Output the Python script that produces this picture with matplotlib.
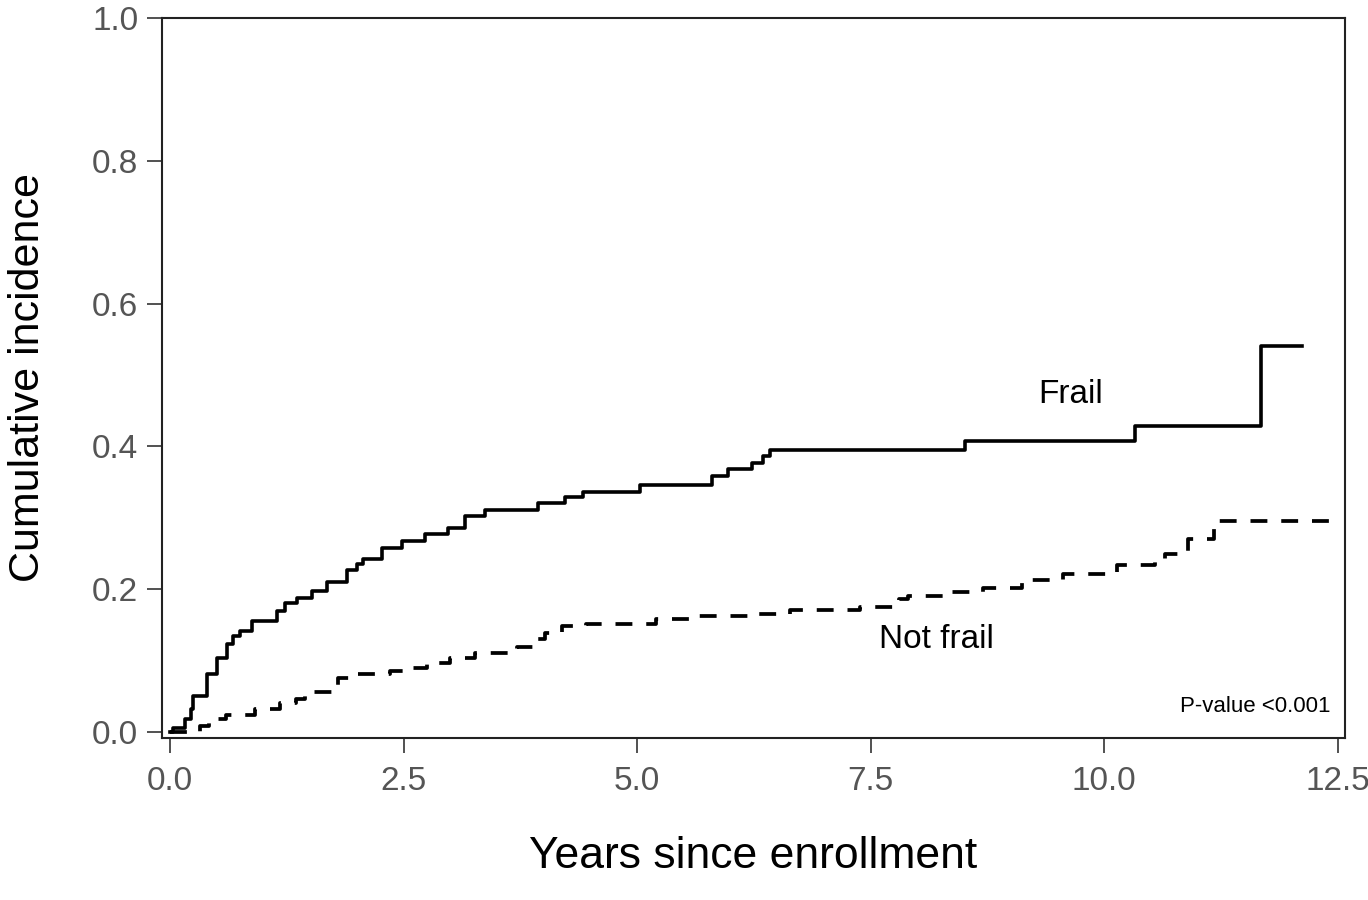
import matplotlib.pyplot as plt

# cumulative incidence step data
frail_t = [0, 0.03, 0.16, 0.22, 0.25, 0.40, 0.50, 0.61, 0.67, 0.75,
           0.88, 1.15, 1.23, 1.36, 1.52, 1.68, 1.90, 2.00, 2.07, 2.27,
           2.48, 2.73, 2.98, 3.16, 3.37, 3.94, 4.23, 4.42, 5.03, 5.80,
           5.97, 6.23, 6.35, 6.42, 8.51, 10.33, 11.68, 12.12]
frail_ci = [0, 0.005, 0.018, 0.032, 0.05, 0.081, 0.104, 0.123, 0.134, 0.141,
            0.155, 0.17, 0.18, 0.188, 0.197, 0.21, 0.227, 0.235, 0.242, 0.258,
            0.267, 0.277, 0.286, 0.302, 0.311, 0.321, 0.329, 0.336, 0.346, 0.359,
            0.368, 0.377, 0.387, 0.395, 0.408, 0.429, 0.541, 0.541]

notfrail_t = [0, 0.32, 0.42, 0.60, 0.91, 1.18, 1.35, 1.45, 1.80, 2.00,
              2.35, 2.52, 2.75, 3.00, 3.27, 3.71, 3.93, 4.02, 4.20, 4.45,
              5.20, 5.57, 6.30, 6.64, 7.39, 7.80, 7.90, 8.35, 8.70, 9.12,
              9.56, 10.14, 10.55, 10.65, 10.90, 11.18, 12.47]
notfrail_ci = [0, 0.008, 0.018, 0.024, 0.032, 0.041, 0.046, 0.056, 0.076, 0.081,
               0.085, 0.090, 0.096, 0.104, 0.111, 0.119, 0.130, 0.139, 0.148, 0.151,
               0.158, 0.162, 0.165, 0.171, 0.175, 0.186, 0.190, 0.196, 0.202, 0.213,
               0.221, 0.234, 0.241, 0.249, 0.270, 0.296, 0.296]

x_ticks = [0.0, 2.5, 5.0, 7.5, 10.0, 12.5]
y_ticks = [0.0, 0.2, 0.4, 0.6, 0.8, 1.0]

plt.rcParams['font.family'] = ['Liberation Sans', 'DejaVu Sans']

fig = plt.figure(figsize=(13.68, 9), dpi=100)
ax = fig.add_axes([0.1184, 0.18, 0.8648, 0.80])

ax.step(frail_t, frail_ci, where="post", color="black", lw=2.6)
ax.step(notfrail_t, notfrail_ci, where="post", color="black", lw=2.7,
        linestyle=(0, (4.5, 3.7)))

ax.set_xlim(-0.086, 12.58)
ax.set_ylim(-0.0084, 1.0)

ax.set_xticks(x_ticks)
ax.set_xticklabels(["%.1f" % v for v in x_ticks])
ax.set_yticks(y_ticks)
ax.set_yticklabels(["%.1f" % v for v in y_ticks])
ax.tick_params(axis="both", direction="out", length=11, width=1.2,
               labelsize=24, labelcolor="#555555", color="#333333")
ax.tick_params(axis="x", pad=9)
ax.tick_params(axis="y", pad=6)
for s in ax.spines.values():
    s.set_linewidth(1.5)
    s.set_color("#222222")

ax.set_xlabel("Years since enrollment", fontsize=32, labelpad=28)
ax.set_ylabel("Cumulative incidence", fontsize=31, labelpad=32)

ax.text(9.64, 0.473, "Frail", fontsize=24, ha="center", va="center")
ax.text(8.21, 0.130, "Not frail", fontsize=24, ha="center", va="center")
ax.text(12.42, 0.036, "P-value <0.001", fontsize=16, ha="right", va="center")

fig.savefig("out.png", dpi=100)
